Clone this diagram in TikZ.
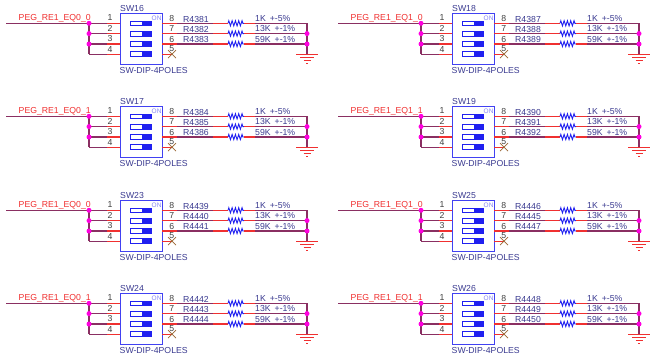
\documentclass[tikz,border=0pt]{standalone}
\usepackage{fontspec}
\setmainfont{Liberation Sans}
\usetikzlibrary{decorations.pathmorphing}

\definecolor{wirecol}{HTML}{8A2F62}
\definecolor{pincol}{HTML}{F03030}
\definecolor{partcol}{HTML}{2020F0}
\definecolor{txtcol}{HTML}{3A3A90}
\definecolor{dotcol}{HTML}{FF00E0}

\tikzset{
  wire/.style={draw=wirecol,line width=1.1pt},
  pinline/.style={draw=pincol,line width=1.1pt},
  lbl/.style={inner sep=0pt,anchor=base west,text=txtcol,font=\fontsize{8.7}{10}\selectfont},
  pinnum/.style={inner sep=0pt,anchor=base,text=black!75,font=\fontsize{8.7}{10}\selectfont},
  netlbl/.style={lbl,text=pincol},
  dot/.style={circle,fill=dotcol,inner sep=0pt,minimum size=5pt},
  swbox/.style={draw=partcol!85,line width=1pt,fill=white,inner sep=0pt,minimum width=42pt,minimum height=51pt},
  slider/.style={draw=partcol,line width=0.8pt,fill=white,inner sep=0pt,minimum width=21pt,minimum height=4.8pt},
  knob/.style={fill=partcol,inner sep=0pt,minimum width=10.8pt,minimum height=5.4pt},
  res/.style={draw=partcol,line width=0.9pt,decorate,decoration={zigzag,segment length=3.3pt,amplitude=2.6pt}},
  gndline/.style={draw=pincol,line width=0.9pt}
}

\begin{document}
\begin{tikzpicture}[x=1pt,y=-1pt]
	\useasboundingbox (0,0) rectangle (653,357);
	\foreach \bx/\by/\sw/\net/\ra/\rb/\rc in {
		0/0/16/PEG\_RE1\_EQ0\_0/R4381/R4382/R4383,
		0/93/17/PEG\_RE1\_EQ0\_1/R4384/R4385/R4386,
		0/187/23/PEG\_RE1\_EQ0\_0/R4439/R4440/R4441,
		0/280/24/PEG\_RE1\_EQ0\_1/R4442/R4443/R4444,
		332/0/18/PEG\_RE1\_EQ1\_0/R4387/R4388/R4389,
		332/93/19/PEG\_RE1\_EQ1\_1/R4390/R4391/R4392,
		332/187/25/PEG\_RE1\_EQ1\_0/R4446/R4445/R4447,
		332/280/26/PEG\_RE1\_EQ1\_1/R4448/R4449/R4450}
	{
	\begin{scope}[shift={(\bx,\by)}]
		\node[swbox] (sw\sw) at (141,38.5) {};
		\node[lbl] (ref\sw) at (120,11) {SW\sw};
		\node[lbl] (val\sw) at (119.5,73.5) {SW-DIP-4POLES};
		\node[lbl,text=partcol!55,font=\fontsize{6.5}{7}\selectfont] (on\sw) at (151.5,20) {ON};
		\node[netlbl] (lab\sw) at (18.5,20) {\net};
		\coordinate (start\sw) at (6,23.3);

		% left side and slider of each pole
		\foreach \i/\y/\b in {1/23.3/20.8,2/33.6/31.3,3/44/41.8,4/54.2/52.2} {
			\coordinate (j\i\sw) at (89,\y);
			\coordinate (k\i\sw) at (107,\y);
			\coordinate (l\i\sw) at (120,\y);
			\path[wire] (j\i\sw) -- (k\i\sw);
			\path[pinline] (k\i\sw) -- (l\i\sw);
			\node[pinnum] (n\i\sw) at (110,\b) {\i};
			\node[slider] (s\i\sw) at (141,\y) {};
			\node[knob] (f\i\sw) at (147,\y) {};
		}
		\path[wire] (start\sw) -- (j1\sw);
		\path[wire] (j1\sw) -- (j4\sw);
		\foreach \i in {1,2,3} {
			\node[dot] (d\i\sw) at (j\i\sw) {};
		}

		% right side, one resistor per pole
		\foreach \i/\n/\y/\b/\rname/\rbase/\rval in {1/8/23.3/21/\ra/22.5/1K\hspace{4pt}+-5\%,2/7/33.6/31.5/\rb/32/13K\hspace{4pt}+-1\%,3/6/44/42/\rc/42.5/59K\hspace{4pt}+-1\%} {
			\coordinate (a\i\sw) at (162,\y);
			\coordinate (b\i\sw) at (177,\y);
			\coordinate (c\i\sw) at (213,\y);
			\coordinate (e\i\sw) at (228,\y);
			\coordinate (g\i\sw) at (244,\y);
			\coordinate (h\i\sw) at (255,\y);
			\coordinate (m\i\sw) at (307,\y);
			\path[pinline] (a\i\sw) -- (b\i\sw);
			\path[wire] (b\i\sw) -- (c\i\sw);
			\path[pinline] (c\i\sw) -- (e\i\sw);
			\path[res] (e\i\sw) -- (g\i\sw);
			\path[pinline] (g\i\sw) -- (h\i\sw);
			\path[wire] (h\i\sw) -- (m\i\sw);
			\node[pinnum] (q\i\sw) at (171.7,\b) {\n};
			\node[lbl] (r\i\sw) at (183,\rbase) {\rname};
			\node[lbl] (v\i\sw) at (255,\b) {\rval};
		}

		% pin 5 is left open
		\coordinate (a4\sw) at (162,54.2);
		\coordinate (x4\sw) at (172,54.2);
		\path[pinline] (a4\sw) -- (x4\sw);
		\node[pinnum] (q4\sw) at (171.7,51.5) {5};
		\draw[draw=brown!80!black,line width=0.7pt] ([shift={(-4,-4)}]x4\sw) -- ([shift={(4,4)}]x4\sw);
		\draw[draw=brown!80!black,line width=0.7pt] ([shift={(-4,4)}]x4\sw) -- ([shift={(4,-4)}]x4\sw);

		% ground
		\coordinate (gnd\sw) at (307,54);
		\path[wire] (m1\sw) -- (gnd\sw);
		\node[dot] (d4\sw) at (m2\sw) {};
		\node[dot] (d5\sw) at (m3\sw) {};
		\path[gndline] (296,54) -- (318,54);
		\path[gndline] (300,57.5) -- (314,57.5);
		\path[gndline] (303.5,60.5) -- (310.5,60.5);
		\path[gndline] (306,63.5) -- (308,63.5);
	\end{scope}
	}
\end{tikzpicture}
\end{document}
